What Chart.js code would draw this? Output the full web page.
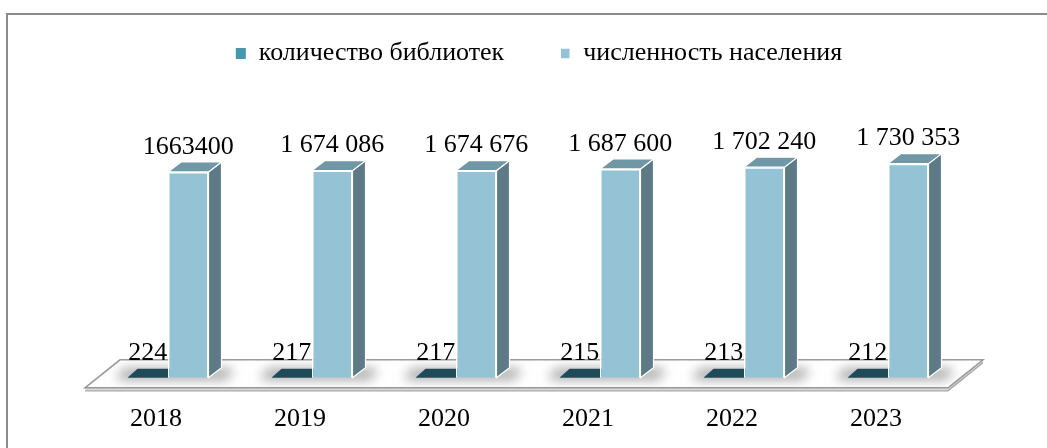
<!DOCTYPE html>
<html lang="ru">
<head>
<meta charset="utf-8">
<script src="https://cdn.jsdelivr.net/npm/chart.js@4.4.1/dist/chart.umd.min.js"></script>
<style>
  html, body { margin: 0; padding: 0; background: #fff; overflow: hidden; }
  #wrap { position: relative; width: 1047px; height: 448px; overflow: hidden; }
  #frame { position: absolute; left: 6px; top: 13px; width: 1100px; height: 500px;
           border-left: 2px solid #8c8c8c; border-top: 2px solid #8c8c8c; }
  canvas { position: absolute; left: 0; top: 0; }
</style>
</head>
<body>
<div id="wrap">
  <div id="frame"></div>
  <canvas id="c" width="1047" height="448"></canvas>
</div>
<script>
const years = ['2018', '2019', '2020', '2021', '2022', '2023'];
const libraries = [224, 217, 217, 215, 213, 212];
const population = [1663400, 1674086, 1674676, 1687600, 1702240, 1730353];
const libraryLabels = ['224', '217', '217', '215', '213', '212'];
const populationLabels = ['1663400', '1 674 086', '1 674 676', '1 687 600', '1 702 240', '1 730 353'];
const seriesNames = ['количество библиотек', 'численность населения'];

const FONT = '"Liberation Serif", "Times New Roman", serif';
const DEPTH_X = 13, DEPTH_Y = -10;

function poly(ctx, pts, fill, stroke, lw) {
  ctx.beginPath();
  ctx.moveTo(pts[0][0], pts[0][1]);
  for (let i = 1; i < pts.length; i++) ctx.lineTo(pts[i][0], pts[i][1]);
  ctx.closePath();
  if (fill) { ctx.fillStyle = fill; ctx.fill(); }
  if (stroke) { ctx.strokeStyle = stroke; ctx.lineWidth = lw || 1; ctx.stroke(); }
}

function barGeom(bar) {
  const p = bar.getProps(['x', 'y', 'base', 'width'], true);
  return { l: p.x - p.width / 2, r: p.x + p.width / 2, top: Math.min(p.y, p.base), base: Math.max(p.y, p.base), cx: p.x };
}

const threeD = {
  id: 'threeD',
  afterLayout(chart) {
    // shift legend slightly right, as in the original
    chart.legend.left += 11;
    chart.legend.right += 11;
  },
  beforeDatasetsDraw(chart) {
    const ctx = chart.ctx;
    const xs = chart.scales.x, ys = chart.scales.y;
    const base = ys.getPixelForValue(0);
    const L = xs.left, R = xs.right;
    // floor slab
    const fl = [[L - 11, base + 10], [R - 12, base + 10], [R + 23, base - 18], [L + 24, base - 18]];
    ctx.save();
    poly(ctx, [[L - 11, base + 10], [R - 12, base + 10], [R - 12, base + 13], [L - 11, base + 13]], '#d9d9d9', null);
    poly(ctx, [[R - 12, base + 10], [R + 23, base - 18], [R + 23, base - 15], [R - 12, base + 13]], '#d0d0d0', null);
    poly(ctx, fl, '#ffffff', '#9a9a9a', 1.5);
    ctx.beginPath();
    ctx.moveTo(L - 11, base + 13); ctx.lineTo(R - 12, base + 13); ctx.lineTo(R + 23, base - 15);
    ctx.strokeStyle = '#a8a8a8'; ctx.lineWidth = 1.2; ctx.stroke();
    ctx.restore();
    // soft shadows around bar bases
    const m0 = chart.getDatasetMeta(0), m1 = chart.getDatasetMeta(1);
    ctx.save();
    ctx.beginPath();
    ctx.rect(L - 40, base - 18, R - L + 80, 28);
    ctx.clip();
    ctx.filter = 'blur(6px)';
    for (let i = 0; i < m0.data.length; i++) {
      const a = barGeom(m0.data[i]), b = barGeom(m1.data[i]);
      poly(ctx, [[a.l - 12, base + 2], [b.r + 18, base + 2], [b.r + 26, base - 9], [a.l - 4, base - 9]], 'rgba(90,90,90,0.55)', null);
    }
    ctx.restore();
    // flat library bars (top faces)
    ctx.save();
    for (const el of m0.data) {
      const g = barGeom(el);
      const dx = 10, dy = -9;
      poly(ctx, [[g.l, g.top], [g.r, g.top], [g.r + dx, g.top + dy], [g.l + dx, g.top + dy]], '#1f4a57', null);
    }
    ctx.restore();
  },
  afterDatasetsDraw(chart) {
    const ctx = chart.ctx;
    const m0 = chart.getDatasetMeta(0), m1 = chart.getDatasetMeta(1);
    ctx.save();
    for (const el of m1.data) {
      const g = barGeom(el);
      const side = [[g.r, g.top], [g.r + DEPTH_X, g.top + DEPTH_Y], [g.r + DEPTH_X, g.base + DEPTH_Y], [g.r, g.base]];
      const top = [[g.l, g.top], [g.l + DEPTH_X, g.top + DEPTH_Y], [g.r + DEPTH_X, g.top + DEPTH_Y], [g.r, g.top]];
      poly(ctx, side, '#5e7a86', '#ffffff', 1.2);
      poly(ctx, top, '#6f97a5', '#ffffff', 1.2);
    }
    // value labels
    ctx.fillStyle = '#000';
    ctx.font = '26px ' + FONT;
    ctx.textAlign = 'center';
    ctx.textBaseline = 'middle';
    m0.data.forEach((el, i) => {
      const g = barGeom(el);
      ctx.fillText(libraryLabels[i], g.cx, g.top - 25);
    });
    m1.data.forEach((el, i) => {
      const g = barGeom(el);
      ctx.fillText(populationLabels[i], g.cx, g.top - 25);
    });
    ctx.restore();
  }
};

new Chart(document.getElementById('c'), {
  type: 'bar',
  data: {
    labels: years,
    datasets: [
      { label: seriesNames[0], data: libraries, backgroundColor: '#4798ae', borderWidth: 0 },
      { label: seriesNames[1], data: population, backgroundColor: '#93c3d5', borderColor: '#ffffff', borderWidth: 1.5 }
    ]
  },
  options: {
    responsive: false,
    animation: false,
    layout: { padding: { left: 96, right: 87, top: -15.5, bottom: -13 } },
    datasets: { bar: { categoryPercentage: 0.5625, barPercentage: 1 } },
    plugins: {
      legend: {
        position: 'top',
        labels: {
          boxWidth: 10, boxHeight: 11, padding: 56,
          color: '#000', font: { family: FONT, size: 26 }
        }
      },
      tooltip: { enabled: false }
    },
    scales: {
      x: {
        grid: { display: false, drawTicks: false },
        border: { display: false },
        ticks: { color: '#000', font: { family: FONT, size: 26 }, padding: 26, labelOffset: -12, maxRotation: 0 }
      },
      y: {
        display: false,
        min: 0,
        max: 2434500
      }
    }
  },
  plugins: [threeD]
});
</script>
</body>
</html>
